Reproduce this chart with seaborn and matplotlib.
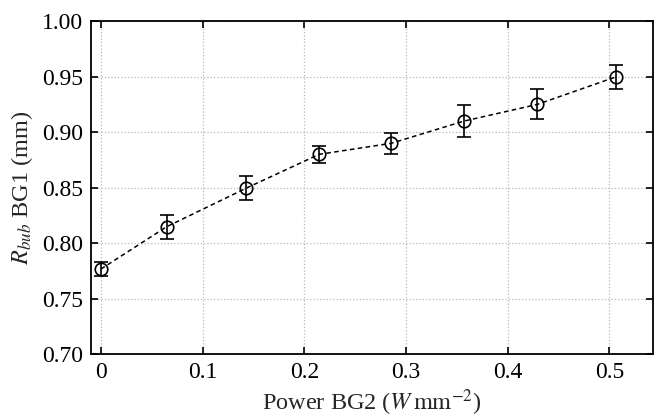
import matplotlib
matplotlib.use("Agg")
import matplotlib.pyplot as plt
import seaborn as sns
import pandas as pd

power = [0.0, 0.0645, 0.143, 0.2145, 0.2856, 0.357, 0.429, 0.507]
r_bub = [0.7766, 0.8147, 0.8496, 0.880, 0.890, 0.910, 0.925, 0.950]
r_err = [0.0066, 0.011, 0.011, 0.008, 0.0097, 0.0147, 0.0135, 0.0107]

xticks = [0, 0.1, 0.2, 0.3, 0.4, 0.5]
xticklabels = ["0", "0.1", "0.2", "0.3", "0.4", "0.5"]
yticks = [0.70, 0.75, 0.80, 0.85, 0.90, 0.95, 1.00]
yticklabels = ["0.70", "0.75", "0.80", "0.85", "0.90", "0.95", "1.00"]

sns.set_style("ticks")
plt.rcParams["font.family"] = ["Liberation Serif", "DejaVu Serif"]
plt.rcParams["mathtext.fontset"] = "stix"

df = pd.DataFrame({"power": power, "r": r_bub, "err": r_err})

fig = plt.figure(figsize=(6.56, 4.19), dpi=100)
ax = fig.add_axes([0.1387, 0.1551, 0.9954 - 0.1387, 0.9492 - 0.1551])

ax.errorbar(df["power"], df["r"], yerr=df["err"], fmt="none", ecolor="black",
            elinewidth=1.2, capsize=4.7, capthick=1.2, zorder=3)
sns.lineplot(data=df, x="power", y="r", ax=ax, color="black",
             linewidth=1.1, linestyle=(0, (3, 2.2)), marker="o", markersize=9,
             markerfacecolor="none", markeredgecolor="black",
             markeredgewidth=1.2, zorder=4)

ax.set_xlim(-0.0098, 0.543)
ax.set_ylim(0.70, 1.00)
ax.set_xticks(xticks)
ax.set_xticklabels(xticklabels)
ax.set_yticks(yticks)
ax.set_yticklabels(yticklabels)

ax.grid(True, color="#b8b8b8", linestyle=":", linewidth=0.9)
ax.set_axisbelow(True)
for s in ax.spines.values():
    s.set_linewidth(1.3)
    s.set_color("black")
    s.set_visible(True)
ax.tick_params(direction="in", length=5, width=1.2, top=True, right=True,
               labelsize=17, colors="black", pad=6)

ax.set_xlabel(r"Power BG2 ($W\,\mathrm{mm}^{-2}$)", fontsize=17.5, labelpad=3)
ax.set_ylabel(r"$R_{bub}$ BG1 (mm)", fontsize=17.5, labelpad=5)

fig.savefig("out.png", dpi=100)
